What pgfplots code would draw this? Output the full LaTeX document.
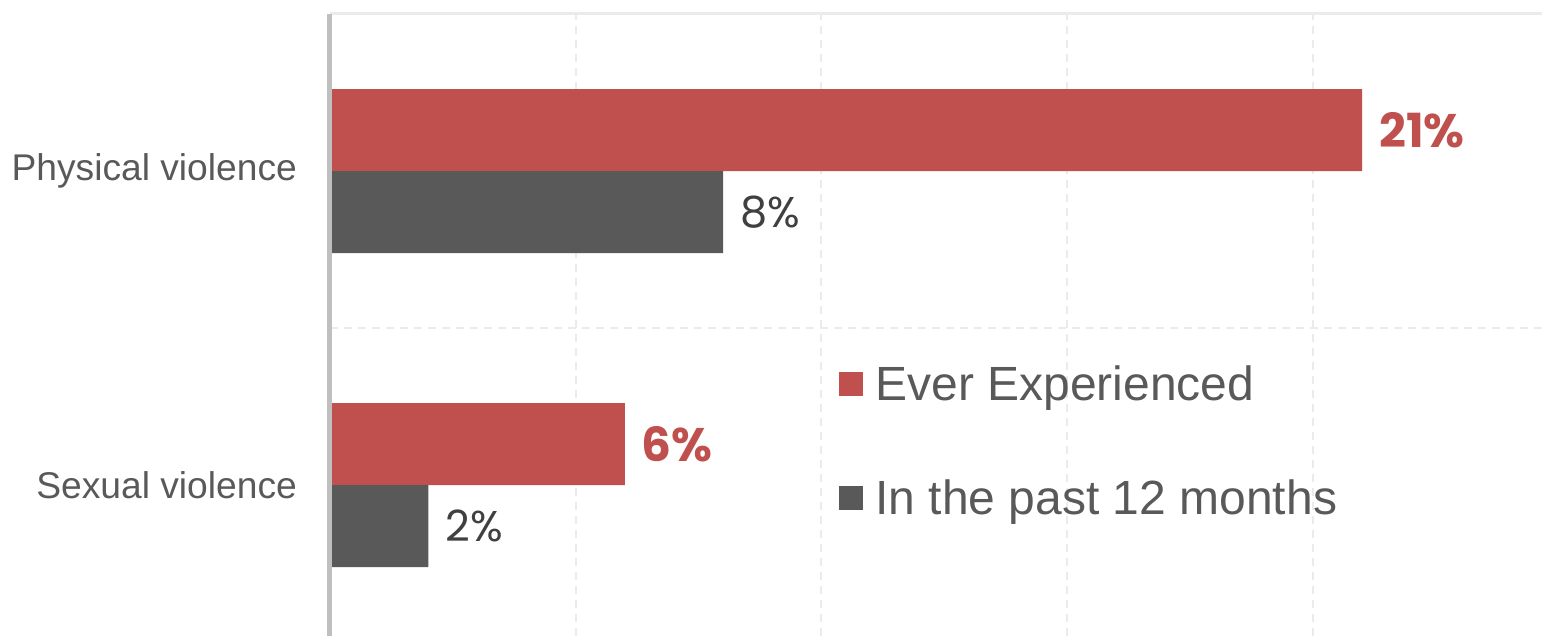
\documentclass[border=0pt]{standalone}
\usepackage{pgfplots}
\pgfplotsset{compat=1.18}
\usepackage{fontspec}
\setmainfont{Liberation Sans}
\newfontfamily\lblfont{Poppins}
\definecolor{redc}{HTML}{C0504D}
\definecolor{darkc}{HTML}{595959}
\definecolor{labc}{HTML}{595959}
\definecolor{numc}{HTML}{404040}
\definecolor{gridc}{HTML}{EBEBEB}
\definecolor{axc}{HTML}{BFBFBF}
\begin{document}
\begin{tikzpicture}
\path[use as bounding box] (0,0) rectangle (771pt,318pt);
\begin{axis}[
  at={(165pt,0pt)}, anchor=south west,
  scale only axis, width=606pt, height=311pt,
  xbar, xmin=0, xmax=24.66, ymin=-0.48, ymax=1.5,
  clip=false,
  axis line style={draw=none},
  ytick={0,1}, yticklabels={Sexual violence, Physical violence},
  xtick={5,10,15,20}, xticklabels={},
  extra y ticks={0.5}, extra y tick labels={},
  extra y tick style={ymajorgrids=true},
  xmajorgrids,
  grid style={gridc, line width=1pt, dash pattern=on 4pt off 3pt},
  major tick length=0pt,
  yticklabel style={font=\fontsize{18.6}{22}\selectfont, text=labc, xshift=-13pt},
  point meta=x,
  /pgf/number format/assume math mode=true,
  nodes near coords={\pgfmathprintnumber{\pgfplotspointmeta}\%},
  bar width=0.261,
  legend style={at={(0.42,0.442)}, anchor=north west, draw=none, fill=none,
    font=\fontsize{24}{28}\selectfont, text=labc, row sep=34pt, column sep=4pt, inner sep=0pt},
  legend cell align=left,
  legend image code/.code={\fill (0pt,-6pt) rectangle (12pt,6pt);},
]
\addplot[fill=redc, draw=none, bar shift=0.1305,
  nodes near coords style={font=\lblfont\bfseries\fontsize{23.5}{26}\selectfont, text=redc, anchor=west, xshift=5pt}]
  coordinates {(21,1) (6,0)};
\addlegendentry{Ever Experienced}
\addplot[fill=darkc, draw=none, bar shift=-0.1305,
  nodes near coords style={font=\lblfont\fontsize{21.5}{24}\selectfont, text=numc, anchor=west, xshift=5pt}]
  coordinates {(8,1) (2,0)};
\addlegendentry{In the past 12 months}
\draw[gridc, line width=1.5pt] (rel axis cs:0,1) -- (rel axis cs:1,1);
\draw[axc, line width=2.5pt] ([xshift=-0.3pt]rel axis cs:0,0) -- ([xshift=-0.3pt]rel axis cs:0,1);
\end{axis}
\end{tikzpicture}
\end{document}
